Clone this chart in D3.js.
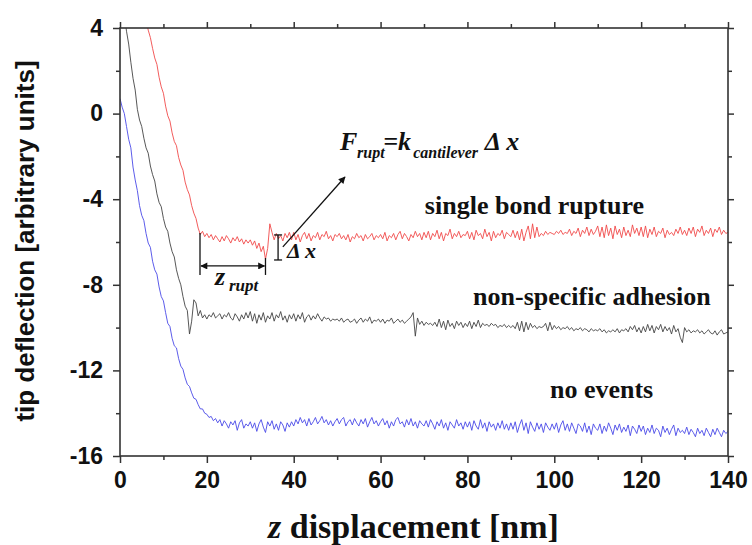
<!DOCTYPE html>
<html>
<head>
<meta charset="utf-8">
<script src="https://cdn.jsdelivr.net/npm/d3@7"></script>
<style>
  body { margin: 0; background: #fff; }
  svg { display: block; }
</style>
</head>
<body>
<div id="chart"></div>
<script>
// z piezo sampling step (nm) and where each trace starts
var zStep = 0.5;
var noEventsStart = 0, nonSpecificStart = 1, singleBondStart = 6;

// tip deflection, every 0.5 nm
var noEvents = [
  0.7, 0.3, 0.0, -0.6, -1.2, -1.6, -2.5, -3.1, -3.6, -4.3, -4.75, -5.0, -5.6, -6.05, -6.25, -6.9, -7.3, -7.5, -8.1, -8.55,
  -8.75, -9.3, -9.8, -9.95, -10.5, -10.85, -10.95, -11.45, -11.8, -11.95, -12.35, -12.65, -12.75, -13.05, -13.3, -13.35, -13.6, -13.8, -13.8, -14.0,
  -14.05, -14.2, -14.15, -14.35, -14.25, -14.45, -14.3, -14.6, -14.35, -14.5, -14.7, -14.4, -14.55, -14.35, -14.8, -14.45, -14.3, -14.7, -14.5, -14.6,
  -14.4, -14.7, -14.45, -14.85, -14.5, -14.3, -14.65, -14.9, -14.4, -14.6, -14.35, -14.75, -14.5, -14.8, -14.4, -14.55, -14.85, -14.45, -14.65, -14.4,
  -14.6, -14.3, -14.5, -14.2, -14.45, -14.3, -14.6, -14.25, -14.55, -14.4, -14.2, -14.5, -14.35, -14.15, -14.45, -14.3, -14.55, -14.35, -14.6, -14.4,
  -14.25, -14.5, -14.3, -14.2, -14.6, -14.4, -14.3, -14.55, -14.25, -14.45, -14.6, -14.3, -14.5, -14.25, -14.65, -14.4, -14.2, -14.5, -14.35, -14.6,
  -14.4, -14.25, -14.55, -14.35, -14.7, -14.4, -14.6, -14.3, -14.2, -14.5, -14.4, -14.65, -14.3, -14.55, -14.25, -14.6, -14.4, -14.7, -14.35, -14.5,
  -14.6, -14.35, -14.65, -14.3, -14.5, -14.75, -14.4, -14.6, -14.3, -14.7, -14.45, -14.8, -14.4, -14.55, -14.7, -14.3, -14.6, -14.45, -14.75, -14.4,
  -14.65, -14.4, -14.8, -14.35, -14.6, -14.75, -14.3, -14.7, -14.45, -14.85, -14.4, -14.65, -14.5, -14.8, -14.45, -14.7, -14.35, -14.75, -14.5, -14.8,
  -14.45, -14.75, -14.4, -14.9, -14.55, -14.3, -14.8, -14.45, -14.95, -14.4, -14.65, -14.85, -14.45, -14.75, -14.5, -14.9, -14.45, -14.65, -14.8, -14.5,
  -14.75, -14.45, -14.9, -14.55, -14.35, -14.8, -14.5, -14.85, -14.45, -14.7, -14.95, -14.5, -14.6, -14.85, -14.45, -14.9, -14.6, -15.0, -14.5, -14.7,
  -14.8, -14.5, -14.95, -14.6, -14.85, -14.45, -14.7, -15.0, -14.55, -14.8, -14.5, -14.9, -14.65, -14.85, -14.55, -15.05, -14.6, -14.75, -14.95, -14.55,
  -14.85, -14.6, -15.0, -14.7, -14.9, -14.55, -14.95, -14.7, -14.8, -15.1, -14.6, -14.9, -14.7, -15.0, -14.75, -14.55, -15.05, -14.7, -14.9, -14.8,
  -14.95, -14.65, -15.0, -14.75, -14.9, -15.1, -14.7, -14.95, -14.8, -15.05, -14.7, -14.9, -15.1, -14.75, -15.0, -14.7, -14.9, -15.1, -14.8, -14.95,
  -14.85
];

var nonSpecific = [
  4.6, 3.85, 3.25, 2.4, 1.65, 1.1, 0.2, -0.3, -0.6, -1.15, -1.6, -1.85, -2.45, -2.85, -3.15, -3.75, -4.15, -4.35, -4.9, -5.3,
  -5.5, -6.05, -6.45, -6.7, -7.3, -7.7, -8.0, -8.55, -9.0, -9.2, -10.3, -9.7, -8.7, -8.85, -9.45, -9.2, -9.55, -9.4,
  -9.6, -9.4, -9.5, -9.3, -9.55, -9.45, -9.35, -9.6, -9.4, -9.5, -9.3, -9.55, -9.65, -9.35, -9.5, -9.7, -9.4, -9.6, -9.3, -9.55,
  -9.25, -9.7, -9.35, -9.8, -9.4, -9.65, -9.3, -9.75, -9.45, -9.6, -9.3, -9.7, -9.4, -9.55, -9.25, -9.65, -9.45, -9.75, -9.4, -9.6,
  -9.35, -9.7, -9.4, -9.6, -9.3, -9.75, -9.5, -9.4, -9.65, -9.45, -9.6, -9.35, -9.55, -9.7, -9.5, -9.6, -9.55, -9.7, -9.6, -9.65,
  -9.6, -9.7, -9.55, -9.75, -9.65, -9.6, -9.75, -9.7, -9.6, -9.8, -9.65, -9.55, -9.75, -9.6, -9.7, -9.5, -9.8, -9.65, -9.7, -9.6,
  -9.75, -9.6, -9.8, -9.65, -9.7, -9.55, -9.8, -9.7, -9.6, -9.75, -9.65, -9.8, -9.7, -9.6, -9.5, -9.3, -10.4, -9.55, -9.85, -9.7,
  -9.9, -9.75, -9.85, -9.8, -9.9, -9.75, -9.95, -9.6, -10.0, -9.7, -10.1, -9.65, -9.95, -9.8, -10.05, -9.7, -9.9, -9.75, -10.0, -9.8,
  -9.95, -9.7, -10.05, -9.75, -9.95, -9.65, -10.0, -9.8, -9.9, -9.85, -9.95, -9.8, -9.9, -9.85, -10.0, -9.9, -9.95, -9.85, -10.0, -9.9,
  -10.0, -9.9, -10.05, -9.75, -10.15, -9.7, -10.2, -9.75, -10.1, -9.8, -10.0, -9.9, -10.05, -9.95, -10.0, -9.95, -9.8, -10.15, -9.75, -10.1,
  -9.9, -10.05, -9.95, -10.1, -10.0, -10.05, -9.95, -10.1, -10.0, -10.15, -10.05, -10.1, -10.0, -10.15, -10.05, -10.1, -10.2, -10.05, -10.15, -10.1,
  -10.15, -10.05, -10.2, -10.1, -10.25, -10.15, -10.2, -10.1, -10.2, -10.05, -10.25, -10.1, -10.15, -10.05, -10.2, -9.95, -10.1, -9.9, -10.2, -10.0,
  -10.25, -9.95, -10.2, -9.85, -10.15, -9.9, -10.25, -9.95, -10.1, -9.85, -10.2, -9.95, -10.15, -10.0, -10.3, -9.9, -10.2, -10.05, -10.45, -10.7,
  -10.0, -10.2, -10.1, -10.25, -10.15, -10.2, -10.1, -10.25, -10.15, -10.3, -10.2, -10.1, -10.25, -10.3, -10.15, -10.35, -10.2, -10.1, -10.3, -10.25,
  -10.2
];

var singleBond = [
  4.35, 3.9, 3.55, 3.05, 2.6, 2.3, 1.7, 1.25, 0.95, 0.35, -0.1, -0.35, -0.9, -1.3, -1.5, -2.05, -2.4, -2.65, -3.2, -3.55,
  -3.8, -4.3, -4.65, -4.9, -5.35, -5.65, -5.5, -5.75,
  -5.6, -5.8, -5.65, -5.9, -5.7, -5.85, -6.0, -5.75, -5.95, -5.7, -5.85, -6.05, -5.8, -5.95, -5.75, -6.0, -5.85, -6.1, -5.9, -6.05,
  -5.9, -6.15, -5.95, -6.3, -6.05, -6.45, -6.2, -6.8, -6.3, -5.15, -5.55, -5.9, -5.6, -5.85, -5.7, -5.95, -5.6, -5.8, -5.55, -5.9,
  -5.55, -5.9, -5.65, -6.0, -5.7, -5.55, -5.85, -5.6, -5.95, -5.7, -5.8, -5.55, -5.9, -5.65, -5.75, -5.5, -5.85, -5.7, -5.95, -5.65,
  -5.75, -5.6, -5.85, -5.7, -5.9, -5.65, -6.0, -5.75, -5.85, -5.6, -5.8, -5.7, -5.95, -5.65, -5.85, -5.75, -5.6, -5.9, -5.7, -5.8,
  -5.65, -5.85, -5.55, -5.95, -5.7, -5.8, -5.6, -5.9, -5.65, -5.5, -5.85, -5.6, -5.75, -5.95, -5.65, -5.8, -5.5, -5.75, -5.6, -5.9,
  -5.55, -5.8, -5.5, -5.9, -5.6, -5.75, -5.45, -5.85, -5.55, -5.95, -5.6, -5.7, -5.4, -5.85, -5.6, -5.75, -5.5, -5.8, -5.65, -5.7,
  -5.5, -5.85, -5.55, -5.9, -5.45, -5.7, -5.6, -5.85, -5.4, -5.75, -5.55, -5.95, -5.5, -5.8, -5.6, -5.7, -5.45, -5.85, -5.55, -5.65,
  -5.75, -5.45, -5.8, -5.5, -5.9, -5.4, -5.95, -5.55, -5.25, -5.85, -5.15, -5.8, -5.3, -5.75, -5.6, -5.7, -5.5, -5.65, -5.55, -5.6,
  -5.65, -5.5, -5.6, -5.45, -5.65, -5.55, -5.6, -5.4, -5.7, -5.5, -5.6, -5.35, -5.75, -5.45, -5.6, -5.3, -5.7, -5.4, -5.65, -5.5,
  -5.25, -5.75, -5.3, -5.8, -5.2, -5.7, -5.35, -5.85, -5.25, -5.65, -5.4, -5.8, -5.3, -5.7, -5.45, -5.75, -5.2, -5.6, -5.35, -5.7,
  -5.3, -5.75, -5.25, -5.8, -5.4, -5.65, -5.3, -5.75, -5.5, -5.6, -5.35, -5.8, -5.45, -5.65, -5.55, -5.7, -5.4, -5.6, -5.3, -5.65,
  -5.45, -5.7, -5.35, -5.6, -5.3, -5.75, -5.4, -5.55, -5.25, -5.7, -5.45, -5.6, -5.35, -5.75, -5.4, -5.55, -5.3, -5.65, -5.45, -5.6,
  -5.55
];

var xMajor = [0, 20, 40, 60, 80, 100, 120, 140];
var xMinor = [10, 30, 50, 70, 90, 110, 130];
var yMajor = [4, 0, -4, -8, -12, -16];
var yMinor = [2, -2, -6, -10, -14];

var W = 752, H = 545;
var plotL = 120, plotR = 728, plotT = 28, plotB = 456;

var svg = d3.select("#chart").append("svg")
    .attr("width", W)
    .attr("height", H);

var x = d3.scaleLinear().domain([0, 140]).range([plotL, plotR]);
var y = d3.scaleLinear().domain([-16, 4]).range([plotB, plotT]);

svg.append("clipPath").attr("id", "plot")
  .append("rect")
    .attr("x", plotL).attr("y", plotT)
    .attr("width", plotR - plotL).attr("height", plotB - plotT);

/* traces */
function toPoints(vals, start) {
    return vals.map(function(v, i) { return {z: start + i * zStep, v: v}; });
}
var traces = [
    {pts: toPoints(singleBond, singleBondStart), color: "#f04a4a"},
    {pts: toPoints(nonSpecific, nonSpecificStart), color: "#444"},
    {pts: toPoints(noEvents, noEventsStart), color: "#4a4ae8"}
];
var line = d3.line()
    .x(function(d) { return x(d.z); })
    .y(function(d) { return y(d.v); });

svg.append("g").attr("clip-path", "url(#plot)")
  .selectAll("path")
  .data(traces)
  .enter().append("path")
    .attr("d", function(d) { return line(d.pts); })
    .attr("fill", "none")
    .attr("stroke", function(d) { return d.color; })
    .attr("stroke-width", 0.9)
    .attr("stroke-linejoin", "round");

/* axes: outward ticks on bottom/left, inward mirror ticks on top/right */
var axisColor = "#333";
var plainNum = function(d) { return String(d); };  // short hyphen minus, as in the figure
function styleAxis(g) {
    g.selectAll("path.domain").remove();
    g.selectAll("line").attr("stroke", axisColor).attr("stroke-width", 1.5);
}
function addAxis(axisFn, scale, vals, size, tr, labels) {
    var a = axisFn(scale).tickValues(vals).tickSize(size).tickSizeOuter(0)
        .tickFormat(labels ? plainNum : "");
    var g = svg.append("g").attr("transform", tr).call(a);
    styleAxis(g);
    return g;
}
var bx = addAxis(d3.axisBottom, x, xMajor, 7, "translate(0," + plotB + ")", true);
addAxis(d3.axisBottom, x, xMinor, 4, "translate(0," + plotB + ")", false);
var ly = addAxis(d3.axisLeft, y, yMajor, 7, "translate(" + plotL + ",0)", true);
addAxis(d3.axisLeft, y, yMinor, 4, "translate(" + plotL + ",0)", false);
addAxis(d3.axisBottom, x, xMajor, -6, "translate(0," + plotT + ")", false);
addAxis(d3.axisBottom, x, xMinor, -4, "translate(0," + plotT + ")", false);
addAxis(d3.axisLeft, y, yMajor, -6, "translate(" + plotR + ",0)", false);
addAxis(d3.axisLeft, y, yMinor, -4, "translate(" + plotR + ",0)", false);

bx.selectAll("text")
    .attr("y", 16).attr("dy", "0.71em")
    .attr("font-family", "'Liberation Sans', Arial, sans-serif")
    .attr("font-weight", "bold").attr("font-size", 23).attr("fill", "#111");
ly.selectAll("text")
    .attr("x", -17)
    .attr("font-family", "'Liberation Sans', Arial, sans-serif")
    .attr("font-weight", "bold").attr("font-size", 23).attr("fill", "#111");

svg.append("rect")
    .attr("x", plotL).attr("y", plotT)
    .attr("width", plotR - plotL).attr("height", plotB - plotT)
    .attr("fill", "none").attr("stroke", axisColor).attr("stroke-width", 1.6);

/* axis titles */
svg.append("text")
    .attr("transform", "translate(34," + 241 + ") rotate(-90)")
    .attr("text-anchor", "middle")
    .attr("font-family", "'Liberation Sans', Arial, sans-serif")
    .attr("font-weight", "bold").attr("font-size", 26).attr("fill", "#111")
    .text("tip deflection [arbitrary units]");

var xt = svg.append("text")
    .attr("x", 268).attr("y", 538)
    .attr("font-family", "'Liberation Serif', 'Times New Roman', serif")
    .attr("font-weight", "bold").attr("font-size", 34).attr("fill", "#111");
xt.append("tspan").attr("font-style", "italic").text("z");
xt.append("tspan").text(" displacement [nm]");

/* curve labels */
var serif = "'Liberation Serif', 'Times New Roman', serif";
var curveLabels = [
    {text: "single bond rupture", z: 70.2, v: -4.69},
    {text: "non-specific adhesion", z: 81.3, v: -8.94},
    {text: "no events", z: 99.0, v: -13.29}
];
svg.selectAll(".curve_label")
  .data(curveLabels)
  .enter().append("text")
    .attr("class", "curve_label")
    .attr("x", function(d) { return x(d.z); })
    .attr("y", function(d) { return y(d.v); })
    .attr("font-family", serif)
    .attr("font-weight", "bold").attr("font-size", 26).attr("fill", "#111")
    .text(function(d) { return d.text; });

/* annotations */
var defs = svg.append("defs");
defs.append("marker").attr("id", "head")
    .attr("viewBox", "0 0 10 10").attr("refX", 9).attr("refY", 5)
    .attr("markerWidth", 9).attr("markerHeight", 7)
    .attr("markerUnits", "userSpaceOnUse")
    .attr("orient", "auto-start-reverse")
  .append("path").attr("d", "M0,0 L10,5 L0,10 z").attr("fill", "#111");

var ann = svg.append("g").attr("stroke", "#111").attr("stroke-width", 1.3);
// z_rupt bracket
ann.append("line")
    .attr("x1", x(18.42)).attr("x2", x(18.42))
    .attr("y1", y(-5.58)).attr("y2", y(-7.54));
ann.append("line")
    .attr("x1", x(33.5)).attr("x2", x(33.5))
    .attr("y1", y(-6.75)).attr("y2", y(-7.54));
ann.append("line")
    .attr("x1", x(18.42) + 1).attr("x2", x(33.5) - 1)
    .attr("y1", y(-7.12)).attr("y2", y(-7.12))
    .attr("marker-start", "url(#head)").attr("marker-end", "url(#head)");
// delta x I-beam
var ib = x(36.4);
ann.append("line").attr("x1", ib).attr("x2", ib).attr("y1", y(-5.67)).attr("y2", y(-6.84));
ann.append("line").attr("x1", ib - 4).attr("x2", ib + 4).attr("y1", y(-5.67)).attr("y2", y(-5.67));
ann.append("line").attr("x1", ib - 4).attr("x2", ib + 4).attr("y1", y(-6.84)).attr("y2", y(-6.84));
// arrow to the formula
ann.append("line")
    .attr("x1", x(37.5)).attr("y1", y(-6.23))
    .attr("x2", x(51.8)).attr("y2", y(-2.96))
    .attr("marker-end", "url(#head)");

function label(z, v, txt, size, color) {
    return svg.append("text")
        .attr("x", x(z)).attr("y", y(v))
        .attr("font-family", serif).attr("font-style", "italic")
        .attr("font-weight", "bold").attr("font-size", size)
        .attr("fill", color || "#111")
        .text(txt);
}
label(21.87, -8.01, "z", 26);
label(25.1, -8.3, "rupt", 17);
label(38.45, -6.75, "\u0394 x", 22);

// F_rupt = k_cantilever dx
label(50.66, -1.70, "F", 26);
label(54.6, -2.08, "rupt", 16);
label(60.6, -1.70, "=k", 26);
label(67.5, -2.08, "cantilever", 16);
label(84.0, -1.70, "\u0394 x", 26);
</script>
</body>
</html>
